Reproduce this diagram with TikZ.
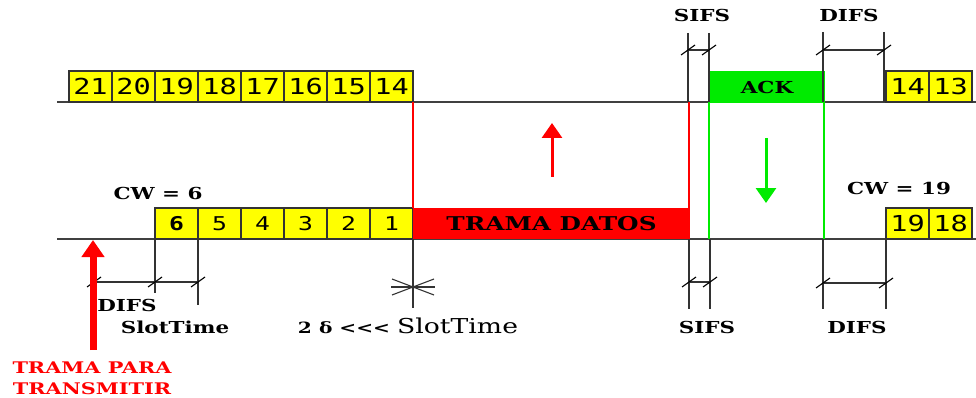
\documentclass[tikz,border=0pt]{standalone}
\usepackage{fontspec}
\setmainfont{DejaVu Serif}
\newfontfamily\slotfont{DejaVu Sans Mono}
\usetikzlibrary{calc,arrows.meta}

\definecolor{slotyellow}{RGB}{255,255,0}
\definecolor{ackgreen}{RGB}{0,235,0}
\definecolor{datared}{RGB}{255,0,0}

\newcommand{\wide}[1]{\scalebox{1.3}[1]{#1}}
\newcommand{\dimtick}[1]{\draw[line width=1.1pt] ($(#1)+(-7,5)$) -- ($(#1)+(7,-5)$);}

\tikzset{
  timeline/.style={line width=1.4pt, black!75},
  slot/.style={draw=black!80, line width=1.2pt, fill=slotyellow, minimum width=43pt,
    minimum height=31pt, inner sep=0pt, font=\slotfont\fontsize{22}{22}\selectfont},
  smallslot/.style={slot, font=\slotfont\fontsize{19}{19}\selectfont},
  lbl/.style={font=\fontsize{16.5}{16.5}\selectfont\bfseries, inner sep=0pt},
  guide/.style={line width=1.1pt, black!80},
  dimline/.style={line width=1.1pt, black!80}
}

\begin{document}
\begin{tikzpicture}[x=1pt,y=-1pt]
\useasboundingbox (0,0) rectangle (976,398);
 % time lines
  \coordinate (TopL) at (57,102);
  \coordinate (TopR) at (976,102);
  \coordinate (BotL) at (57,239);
  \coordinate (BotR) at (976,239);
 \draw[timeline] (TopL) -- (TopR);
 \draw[timeline] (BotL) -- (BotR);

 % upper station, backoff 21..14
  \node[slot] (T21) at (90.5,86.5) {\wide{21}};
  \node[slot] (T20) at (133.5,86.5) {\wide{20}};
  \node[slot] (T19) at (176.5,86.5) {\wide{19}};
  \node[slot] (T18) at (219.5,86.5) {\wide{18}};
  \node[slot] (T17) at (262.5,86.5) {\wide{17}};
  \node[slot] (T16) at (305.5,86.5) {\wide{16}};
  \node[slot] (T15) at (348.5,86.5) {\wide{15}};
  \node[slot] (T14) at (391.5,86.5) {\wide{14}};

 % lower station, CW = 6
  \node[lbl] (CWa) at (158,193) {\wide{CW = 6}};
  \node[smallslot] (B6) at (176.5,223.5) {\wide{\bfseries 6}};
  \node[smallslot] (B5) at (219.5,223.5) {\wide{5}};
  \node[smallslot] (B4) at (262.5,223.5) {\wide{4}};
  \node[smallslot] (B3) at (305.5,223.5) {\wide{3}};
  \node[smallslot] (B2) at (348.5,223.5) {\wide{2}};
  \node[smallslot] (B1) at (391.5,223.5) {\wide{1}};

 % data frame
  \node[fill=datared, minimum width=277pt, minimum height=31pt, inner sep=0pt,
    font=\fontsize{19}{19}\selectfont\bfseries] (Datos) at (551.5,223.5) {\wide{TRAMA DATOS}};
  \coordinate (RedA) at (413,102);
  \coordinate (RedB) at (413,208);
  \coordinate (RedC) at (689,102);
  \coordinate (RedD) at (689,208);
 \draw[datared, line width=2pt] (RedA) -- (RedB);
 \draw[datared, line width=2pt] (RedC) -- (RedD);
  \coordinate (UpA) at (552,177);
  \coordinate (UpB) at (552,123);
 \draw[datared, line width=3pt, -{Triangle[width=20pt,length=15pt]}] (UpA) -- (UpB);

 % ack
  \node[fill=ackgreen, minimum width=116pt, minimum height=32pt, inner sep=0pt,
    font=\fontsize{16.5}{16.5}\selectfont\bfseries] (Ack) at (767,87) {\wide{ACK}};
  \coordinate (GrA) at (709,102);
  \coordinate (GrB) at (709,239);
  \coordinate (GrC) at (824,102);
  \coordinate (GrD) at (824,239);
 \draw[ackgreen, line width=2pt] (GrA) -- (GrB);
 \draw[ackgreen, line width=2pt] (GrC) -- (GrD);
  \coordinate (DnA) at (766,138);
  \coordinate (DnB) at (766,203);
 \draw[ackgreen, line width=3pt, -{Triangle[width=20pt,length=15pt]}] (DnA) -- (DnB);

 % after DIFS
  \node[slot] (T14r) at (907.5,86.5) {\wide{14}};
  \node[slot] (T13r) at (950.5,86.5) {\wide{13}};
  \node[lbl] (CWb) at (899,188) {\wide{CW = 19}};
  \node[slot] (B19) at (907.5,223.5) {\wide{19}};
  \node[slot] (B18) at (950.5,223.5) {\wide{18}};

 % SIFS / DIFS, top
  \coordinate (TSa) at (688,33);
  \coordinate (TSb) at (709,33);
  \coordinate (TSa_1) at (688,50);
  \coordinate (TSb_1) at (709,50);
  \coordinate (TSa_2) at (688,102);
  \coordinate (TSb_2) at (709,102);
  \coordinate (TDa) at (823,32);
  \coordinate (TDb) at (884,32);
  \coordinate (TDa_1) at (823,50);
  \coordinate (TDb_1) at (884,50);
  \coordinate (TDa_2) at (823,102);
  \coordinate (TDb_2) at (884,102);
 \draw[guide] (TSa) -- (TSa_2);
 \draw[guide] (TSb) -- (TSb_2);
 \draw[guide] (TDa) -- (TDa_2);
 \draw[guide] (TDb) -- (TDb_2);
 \draw[dimline] (TSa_1) -- (TSb_1);
 \draw[dimline] (TDa_1) -- (TDb_1);
 \dimtick{TSa_1} \dimtick{TSb_1} \dimtick{TDa_1} \dimtick{TDb_1}
  \node[lbl] (SifsT) at (702,15) {\wide{SIFS}};
  \node[lbl] (DifsT) at (849,15) {\wide{DIFS}};

 % SIFS / DIFS, bottom
  \coordinate (BSa) at (689,239);
  \coordinate (BSb) at (710,239);
  \coordinate (BSa_1) at (689,282);
  \coordinate (BSb_1) at (710,282);
  \coordinate (BSa_2) at (689,309);
  \coordinate (BSb_2) at (710,309);
  \coordinate (BDa) at (823,239);
  \coordinate (BDb) at (886,239);
  \coordinate (BDa_1) at (823,283);
  \coordinate (BDb_1) at (886,283);
  \coordinate (BDa_2) at (823,309);
  \coordinate (BDb_2) at (886,309);
 \draw[guide] (BSa) -- (BSa_2);
 \draw[guide] (BSb) -- (BSb_2);
 \draw[guide] (BDa) -- (BDa_2);
 \draw[guide] (BDb) -- (BDb_2);
 \draw[dimline] (BSa_1) -- (BSb_1);
 \draw[dimline] (BDa_1) -- (BDb_1);
 \dimtick{BSa_1} \dimtick{BSb_1} \dimtick{BDa_1} \dimtick{BDb_1}
  \node[lbl] (SifsB) at (707,327) {\wide{SIFS}};
  \node[lbl] (DifsB) at (857,327) {\wide{DIFS}};

 % DIFS + slot, left
  \coordinate (LDa_1) at (94,282);
  \coordinate (LDb) at (155,239);
  \coordinate (LDb_1) at (155,282);
  \coordinate (LDb_2) at (155,293);
  \coordinate (LDc) at (198,239);
  \coordinate (LDc_1) at (198,282);
  \coordinate (LDc_2) at (198,305);
 \draw[guide] (LDb) -- (LDb_2);
 \draw[guide] (LDc) -- (LDc_2);
 \draw[dimline] (LDa_1) -- (LDb_1) -- (LDc_1);
 \dimtick{LDa_1} \dimtick{LDb_1} \dimtick{LDc_1}
  \node[lbl] (DifsL) at (127,305) {\wide{DIFS}};
  \node[lbl] (SlotL) at (175,327) {\wide{SlotTime}};

 % propagation star
  \coordinate (St) at (413,287);
  \coordinate (StA) at (413,239);
  \coordinate (StB) at (413,308);
 \draw[guide] (StA) -- (StB);
 \draw[guide] ($(St)+(-22,0)$) -- ($(St)+(22,0)$);
 \draw[guide] ($(St)+(-21,-8)$) -- ($(St)+(21,8)$);
 \draw[guide] ($(St)+(-21,8)$) -- ($(St)+(21,-8)$);
  \node[inner sep=0pt] (Prop) at (408,326) {\wide{\fontsize{15.5}{15.5}\selectfont\bfseries 2 δ <{}<{}< \fontsize{20.5}{20.5}\selectfont\mdseries SlotTime}};

 % frame arrives
  \coordinate (NewA) at (93,350);
  \coordinate (NewB) at (93,240);
 \draw[datared, line width=7pt, -{Triangle[width=22pt,length=17pt]}] (NewA) -- (NewB);
  \node[lbl, text=datared, align=center, font=\fontsize{16}{21}\selectfont\bfseries] (Trama) at (92,378) {\wide{TRAMA PARA}\\\wide{TRANSMITIR}};
\end{tikzpicture}
\end{document}
